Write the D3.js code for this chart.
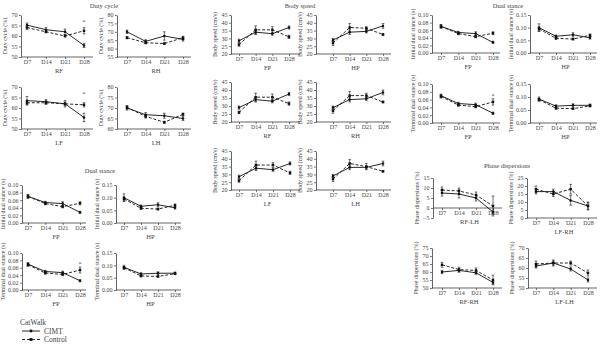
<!DOCTYPE html>
<html>
<head>
<meta charset="utf-8">
<script src="https://cdn.jsdelivr.net/npm/d3@7"></script>
<style>
    body { margin: 0; background: #fff; }
    svg text { font-family: "Liberation Serif", "DejaVu Serif", serif; fill: #444; }
</style>
</head>
<body>
<svg id="chart" width="600" height="344"></svg>
<script>
// Gait parameters, CIMT vs Control, days 7-28

const days = ['D7', 'D14', 'D21', 'D28'];

// Duty cycle (%)
const dutyRF = { cimt: [65.2, 63, 62, 55.5], ctrl: [64, 62, 60, 62.5], cimtErr: [1, 1, 1.3, 1], ctrlErr: [1, 0.5, 0.5, 1.5] };
const dutyRH = { cimt: [70, 64.3, 67.5, 65.5], ctrl: [66.5, 63.5, 63, 66.5], cimtErr: [1, 1, 2.5, 1], ctrlErr: [0.7, 0.7, 0.5, 0.8] };
const dutyLF = { cimt: [63.5, 63, 62, 55.5], ctrl: [62.5, 62.5, 62, 61.5], cimtErr: [2, 1, 1.5, 2], ctrlErr: [1, 0.8, 0.8, 1] };
const dutyLH = { cimt: [70, 66.8, 66.3, 65], ctrl: [70.3, 66, 63.2, 67], cimtErr: [1, 1, 1.2, 1], ctrlErr: [0.8, 0.8, 0.5, 0.6] };

// Dual stance (s)
const initialFP = { cimt: [0.070, 0.054, 0.051, 0.028], ctrl: [0.070, 0.051, 0.043, 0.052], cimtErr: [0.004, 0.003, 0.005, 0.003], ctrlErr: [0.005, 0.003, 0.003, 0.004] };
const initialHP = { cimt: [0.100, 0.066, 0.072, 0.060], ctrl: [0.095, 0.058, 0.055, 0.070], cimtErr: [0.015, 0.005, 0.008, 0.005], ctrlErr: [0.008, 0.004, 0.003, 0.005] };
const terminalFP = { cimt: [0.070, 0.050, 0.047, 0.025], ctrl: [0.068, 0.046, 0.042, 0.054], cimtErr: [0.004, 0.003, 0.004, 0.003], ctrlErr: [0.004, 0.003, 0.003, 0.008] };
const terminalHP = { cimt: [0.092, 0.065, 0.068, 0.068], ctrl: [0.090, 0.057, 0.055, 0.066], cimtErr: [0.008, 0.005, 0.006, 0.005], ctrlErr: [0.005, 0.004, 0.003, 0.004] };

// Body speed (cm/s)
const speedFP = { cimt: [28.5, 34, 33, 37], ctrl: [26, 35.5, 35.5, 31], cimtErr: [1, 1.5, 1, 1], ctrlErr: [1, 2.5, 2, 1] };
const speedHP = { cimt: [29, 34, 34.5, 38], ctrl: [27, 37, 36.5, 32.5], cimtErr: [1, 1.5, 1, 1.5], ctrlErr: [1.5, 2.5, 1, 0.5] };
const speedRF = { cimt: [29, 34, 33, 37.5], ctrl: [26, 35.5, 35.5, 31.5], cimtErr: [1, 1.5, 1, 1], ctrlErr: [0.8, 2.5, 2, 1] };
const speedRH = { cimt: [29, 34, 34.5, 38.5], ctrl: [27, 36.5, 36.5, 32.5], cimtErr: [1, 1.5, 1, 1.5], ctrlErr: [1.5, 2.5, 1.5, 0.5] };
const speedLF = { cimt: [28.5, 34, 33, 37], ctrl: [26, 36, 36, 31], cimtErr: [1, 1.5, 1, 1], ctrlErr: [1, 2.5, 1.5, 1] };
const speedLH = { cimt: [29, 34.5, 34.5, 37], ctrl: [27, 37, 35, 32], cimtErr: [1, 1.5, 1, 1.5], ctrlErr: [1.5, 2.5, 2, 0.5] };

// Phase dispersions (%)
const phaseRFLH = { cimt: [7.5, 7, 5, -2], ctrl: [9, 8.5, 6.5, 1], cimtErr: [1.5, 2, 1.5, 1], ctrlErr: [1.5, 1.5, 1.5, 5] };
const phaseLFRH = { cimt: [16.5, 16.5, 11, 7.5], ctrl: [18, 15, 18, 7.5], cimtErr: [1.5, 1.5, 3, 2], ctrlErr: [2, 1.5, 3, 2.5] };
const phaseRFRH = { cimt: [60, 61, 59.5, 53.5], ctrl: [64.5, 61.5, 61, 55], cimtErr: [1, 1, 1, 1], ctrlErr: [1.5, 1.5, 1.5, 3] };
const phaseLFLH = { cimt: [61, 62.5, 59.5, 54], ctrl: [62, 62.5, 62.5, 57.5], cimtErr: [1, 1, 1, 1], ctrlErr: [1.5, 1.5, 1, 1.5] };

// Significance marks (day, value)
const dutyRFStar = ['D28', 67];
const dutyLFStar = ['D28', 67];
const terminalFPStar = ['D28', 0.072];

// Tick sets
const dutyTicksA = [50, 55, 60, 65, 70];
const dutyTicksRH = [55, 60, 65, 70, 75, 80];
const dutyTicksLH = [60, 65, 70, 75, 80];
const stanceTicksFP = [0, 0.02, 0.04, 0.06, 0.08, 0.10];
const stanceTicksHP = [0, 0.05, 0.10, 0.15];
const speedTicks = [20, 25, 30, 35, 40, 45];
const phaseTicksRFLH = [-5, 0, 5, 10, 15];
const phaseTicksLFRH = [0, 5, 10, 15, 20, 25];
const phaseTicksRFRH = [50, 55, 60, 65, 70, 75];
const phaseTicksLFLH = [50, 55, 60, 65, 70];

const svg = d3.select('#chart');
const fmt2 = d3.format('.2f');
const fmt0 = d3.format('d');

// Panel layout: y-axis x, first/last category x, axis end, top/bottom of value range
const panels = [
    // Duty cycle
    { data: dutyRF, sub: 'RF', ylab: 'Duty cycle (%)', ticks: dutyTicksA, fmt: fmt0, left: 21, x0: 27, x1: 84, right: 93, top: 15, bottom: 57, star: dutyRFStar },
    { data: dutyRH, sub: 'RH', ylab: 'Duty cycle (%)', ticks: dutyTicksRH, fmt: fmt0, left: 117, x0: 127, x1: 183, right: 191, top: 15, bottom: 57 },
    { data: dutyLF, sub: 'LF', ylab: 'Duty cycle (%)', ticks: dutyTicksA, fmt: fmt0, left: 21, x0: 27, x1: 84, right: 93, top: 87, bottom: 129, star: dutyLFStar },
    { data: dutyLH, sub: 'LH', ylab: 'Duty cycle (%)', ticks: dutyTicksLH, fmt: fmt0, left: 117, x0: 127, x1: 183, right: 191, top: 87, bottom: 129 },
    // Dual stance, lower left
    { data: initialFP, sub: 'FP', ylab: 'Initial dual stance (s)', ticks: stanceTicksFP, fmt: fmt2, left: 22, x0: 28, x1: 80, right: 86, top: 185, bottom: 223, labOff: 19 },
    { data: initialHP, sub: 'HP', ylab: 'Initial dual stance (s)', ticks: stanceTicksHP, fmt: fmt2, left: 116, x0: 124, x1: 175, right: 181, top: 185, bottom: 223, labOff: 19 },
    { data: terminalFP, sub: 'FP', ylab: 'Terminal dual stance (s)', ticks: stanceTicksFP, fmt: fmt2, left: 22, x0: 28, x1: 80, right: 86, top: 253, bottom: 290, star: terminalFPStar, labOff: 19 },
    { data: terminalHP, sub: 'HP', ylab: 'Terminal dual stance (s)', ticks: stanceTicksHP, fmt: fmt2, left: 116, x0: 124, x1: 175, right: 181, top: 253, bottom: 290, labOff: 19 },
    // Body speed
    { data: speedFP, sub: 'FP', ylab: 'Body speed (cm/s)', ticks: speedTicks, fmt: fmt0, left: 231, x0: 239, x1: 289, right: 300, top: 15, bottom: 54 },
    { data: speedHP, sub: 'HP', ylab: 'Body speed (cm/s)', ticks: speedTicks, fmt: fmt0, left: 316, x0: 333, x1: 383, right: 391, top: 15, bottom: 54 },
    { data: speedRF, sub: 'RF', ylab: 'Body speed (cm/s)', ticks: speedTicks, fmt: fmt0, left: 231, x0: 239, x1: 289, right: 300, top: 82, bottom: 122 },
    { data: speedRH, sub: 'RH', ylab: 'Body speed (cm/s)', ticks: speedTicks, fmt: fmt0, left: 316, x0: 333, x1: 383, right: 391, top: 82, bottom: 122 },
    { data: speedLF, sub: 'LF', ylab: 'Body speed (cm/s)', ticks: speedTicks, fmt: fmt0, left: 231, x0: 239, x1: 290, right: 300, top: 151, bottom: 190 },
    { data: speedLH, sub: 'LH', ylab: 'Body speed (cm/s)', ticks: speedTicks, fmt: fmt0, left: 316, x0: 333, x1: 383, right: 391, top: 151, bottom: 190 },
    // Dual stance, upper right
    { data: initialFP, sub: 'FP', ylab: 'Initial dual stance (s)', ticks: stanceTicksFP, fmt: fmt2, left: 432, x0: 441, x1: 493, right: 500, top: 15, bottom: 53, labOff: 19 },
    { data: initialHP, sub: 'HP', ylab: 'Initial dual stance (s)', ticks: stanceTicksHP, fmt: fmt2, left: 530, x0: 539, x1: 590, right: 597, top: 15, bottom: 53, labOff: 19 },
    { data: terminalFP, sub: 'FP', ylab: 'Terminal dual stance (s)', ticks: stanceTicksFP, fmt: fmt2, left: 432, x0: 441, x1: 493, right: 500, top: 84, bottom: 123, star: terminalFPStar, labOff: 19 },
    { data: terminalHP, sub: 'HP', ylab: 'Terminal dual stance (s)', ticks: stanceTicksHP, fmt: fmt2, left: 530, x0: 539, x1: 590, right: 597, top: 84, bottom: 123, labOff: 19 },
    // Phase dispersions
    { data: phaseRFLH, sub: 'RF-LH', ylab: 'Phase dispersions (%)', ticks: phaseTicksRFLH, fmt: fmt0, left: 433, x0: 442, x1: 493, right: 502, top: 178, bottom: 218, base: 0 },
    { data: phaseLFRH, sub: 'LF-RH', ylab: 'Phase dispersions (%)', ticks: phaseTicksLFRH, fmt: fmt0, left: 527, x0: 536, x1: 588, right: 597, top: 178, bottom: 218 },
    { data: phaseRFRH, sub: 'RF-RH', ylab: 'Phase dispersions (%)', ticks: phaseTicksRFRH, fmt: fmt0, left: 432, x0: 442, x1: 493, right: 502, top: 248, bottom: 288 },
    { data: phaseLFLH, sub: 'LF-LH', ylab: 'Phase dispersions (%)', ticks: phaseTicksLFLH, fmt: fmt0, left: 528, x0: 536, x1: 588, right: 597, top: 248, bottom: 288 }
];

// Section titles
const titles = [
    { text: 'Duty cycle', x: 104, y: 6 },
    { text: 'Body speed', x: 300, y: 6 },
    { text: 'Dual stance', x: 508, y: 6 },
    { text: 'Dual stance', x: 100, y: 171 },
    { text: 'Phase dispersions', x: 507, y: 166 }
];

svg.selectAll('text.title')
    .data(titles)
    .enter().append('text')
    .attr('class', 'title')
    .attr('x', d => d.x)
    .attr('y', d => d.y)
    .attr('dy', '0.35em')
    .attr('text-anchor', 'middle')
    .style('font-size', '6.5px')
    .text(d => d.text);

panels.forEach(drawPanel);

function drawPanel(p) {
    const g = svg.append('g');
    const dom = d3.extent(p.ticks);
    const y = d3.scaleLinear().domain(dom).range([p.bottom, p.top]);
    const x = d3.scalePoint().domain(days).range([p.x0, p.x1]);
    const baseY = y(p.base !== undefined ? p.base : dom[0]);

    // y axis
    const yAxis = g.append('g')
        .attr('transform', `translate(${p.left},0)`)
        .call(d3.axisLeft(y).tickValues(p.ticks).tickFormat(p.fmt).tickSize(2).tickSizeOuter(0).tickPadding(1.5));
    yAxis.select('.domain').attr('stroke', '#222').attr('stroke-width', 0.7);
    yAxis.selectAll('.tick line').attr('stroke', '#222').attr('stroke-width', 0.6);
    yAxis.selectAll('.tick text').style('font-size', '6px').attr('fill', '#444');

    // x axis at the base value
    const xAxis = g.append('g')
        .attr('transform', `translate(0,${baseY})`)
        .call(d3.axisBottom(x).tickSize(2).tickSizeOuter(0).tickPadding(1));
    xAxis.select('.domain').attr('d', `M${p.left},0H${p.right}`).attr('stroke', '#222').attr('stroke-width', 0.7);
    xAxis.selectAll('.tick line').attr('stroke', '#222').attr('stroke-width', 0.6);
    xAxis.selectAll('.tick text').style('font-size', '6px').attr('fill', '#444');

    // sub label under the axis
    g.append('text')
        .attr('x', (p.left + p.right) / 2 + 2)
        .attr('y', baseY + 14)
        .attr('dy', '0.35em')
        .attr('text-anchor', 'middle')
        .style('font-size', '6.5px')
        .text(p.sub);

    // y label
    g.append('text')
        .attr('transform', `translate(${p.left - (p.labOff || 16)},${(p.top + p.bottom) / 2}) rotate(-90)`)
        .attr('dy', '0.35em')
        .attr('text-anchor', 'middle')
        .style('font-size', '6px')
        .text(p.ylab);

    const series = [
        { vals: p.data.ctrl, errs: p.data.ctrlErr, dash: '3,1.8', shape: 'square' },
        { vals: p.data.cimt, errs: p.data.cimtErr, dash: null, shape: 'circle' }
    ];

    const line = d3.line()
        .x((d, i) => x(days[i]))
        .y(d => y(d));

    series.forEach(s => {
        // error bars
        const eb = g.append('g');
        s.vals.forEach((v, i) => {
            const cx = x(days[i]);
            const y1 = y(v - s.errs[i]), y2 = y(v + s.errs[i]);
            eb.append('line').attr('x1', cx).attr('x2', cx).attr('y1', y1).attr('y2', y2)
                .attr('stroke', '#111').attr('stroke-width', 0.6);
            [y1, y2].forEach(yy => eb.append('line')
                .attr('x1', cx - 1.3).attr('x2', cx + 1.3).attr('y1', yy).attr('y2', yy)
                .attr('stroke', '#111').attr('stroke-width', 0.6));
        });

        g.append('path')
            .datum(s.vals)
            .attr('d', line)
            .attr('fill', 'none')
            .attr('stroke', '#111')
            .attr('stroke-width', 0.9)
            .attr('stroke-dasharray', s.dash);

        g.selectAll(null)
            .data(s.vals)
            .enter().append('path')
            .attr('transform', (d, i) => `translate(${x(days[i])},${y(d)})`)
            .attr('d', d3.symbol().type(s.shape === 'square' ? d3.symbolSquare : d3.symbolCircle).size(s.shape === 'square' ? 6 : 5))
            .attr('fill', '#111');
    });

    if (p.star) {
        g.append('text')
            .attr('x', x(p.star[0]))
            .attr('y', y(p.star[1]))
            .attr('dy', '0.5em')
            .attr('text-anchor', 'middle')
            .style('font-size', '6px')
            .text('*');
    }
}

// Legend
const legendRows = [
    { label: 'CIMT', dash: null, shape: d3.symbolCircle, size: 7 },
    { label: 'Control', dash: '3,2', shape: d3.symbolSquare, size: 8 }
];
const legend = svg.append('g').attr('transform', 'translate(20,322)');
legend.append('text')
    .attr('x', 0).attr('y', 0).attr('dy', '0.35em')
    .style('font-size', '7.5px')
    .text('CatWalk');
legendRows.forEach((r, i) => {
    const ly = 9 + i * 8.5;
    legend.append('line')
        .attr('x1', 2).attr('x2', 20).attr('y1', ly).attr('y2', ly)
        .attr('stroke', '#111').attr('stroke-width', 0.9)
        .attr('stroke-dasharray', r.dash);
    legend.append('path')
        .attr('transform', `translate(11,${ly})`)
        .attr('d', d3.symbol().type(r.shape).size(r.size))
        .attr('fill', '#111');
    legend.append('text')
        .attr('x', 24).attr('y', ly).attr('dy', '0.35em')
        .style('font-size', '7.5px')
        .text(r.label);
});
</script>
</body>
</html>
